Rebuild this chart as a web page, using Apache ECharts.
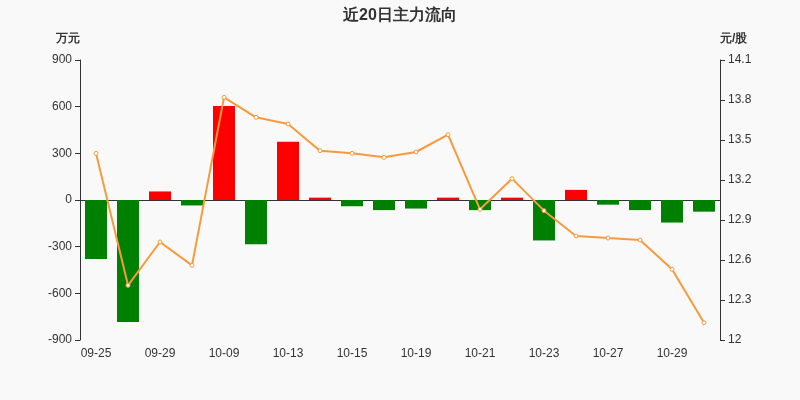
<!DOCTYPE html>
<html><head><meta charset="utf-8">
<script src="https://cdn.jsdelivr.net/npm/echarts@6/dist/echarts.min.js"></script>
<style>html,body{margin:0;background:#f9f9f9}#c{width:800px;height:400px}</style>
</head><body><div id="c"></div>
<script>
const categories=['09-25','09-26','09-29','09-30','10-09','10-10','10-13','10-14','10-15','10-16','10-19','10-20','10-21','10-22','10-23','10-24','10-27','10-28','10-29','10-30'];
const flows=[-380,-785,55,-35,605,-285,375,15,-40,-65,-55,15,-65,15,-260,65,-30,-65,-145,-75];
const prices=[13.40,12.41,12.735,12.56,13.82,13.67,13.62,13.42,13.40,13.37,13.41,13.54,12.98,13.21,12.97,12.78,12.765,12.75,12.53,12.13];
const chart=echarts.init(document.getElementById('c'));
const f='sans-serif';
chart.setOption({
 backgroundColor:'#f9f9f9',
 title:{text:'近20日主力流向',left:'center',top:3,textStyle:{fontSize:16,fontWeight:'bold',color:'#333',fontFamily:f}},
 grid:{left:80,right:80,top:60,bottom:60},
 xAxis:{type:'category',data:categories,axisTick:{alignWithLabel:true},axisLine:{lineStyle:{color:'#333'}},
  axisLabel:{interval:1,color:'#333',fontSize:12}},
 yAxis:[{type:'value',name:'万元',min:-900,max:900,interval:300,nameTextStyle:{color:'#333',fontWeight:'bold',align:'right'},
   axisLine:{show:true,lineStyle:{color:'#333'}},axisTick:{show:true},splitLine:{show:false},axisLabel:{color:'#333'}},
  {type:'value',name:'元/股',min:12,max:14.1,interval:0.3,nameTextStyle:{color:'#333',fontWeight:'bold',align:'left'},
   axisLine:{show:true,lineStyle:{color:'#333'}},axisTick:{show:true},splitLine:{show:false},
   axisLabel:{color:'#333',formatter:v=>String(Math.round(v*10)/10)}}],
 series:[{type:'bar',data:flows,barWidth:22,itemStyle:{color:p=>p.value>=0?'#ff0000':'#008000'}},
  {type:'line',yAxisIndex:1,data:prices,symbol:'circle',symbolSize:4,itemStyle:{color:'#fff',borderColor:'#f89a3c',borderWidth:1},
   lineStyle:{color:'#f89a3c',width:2}}]
});
</script></body></html>
